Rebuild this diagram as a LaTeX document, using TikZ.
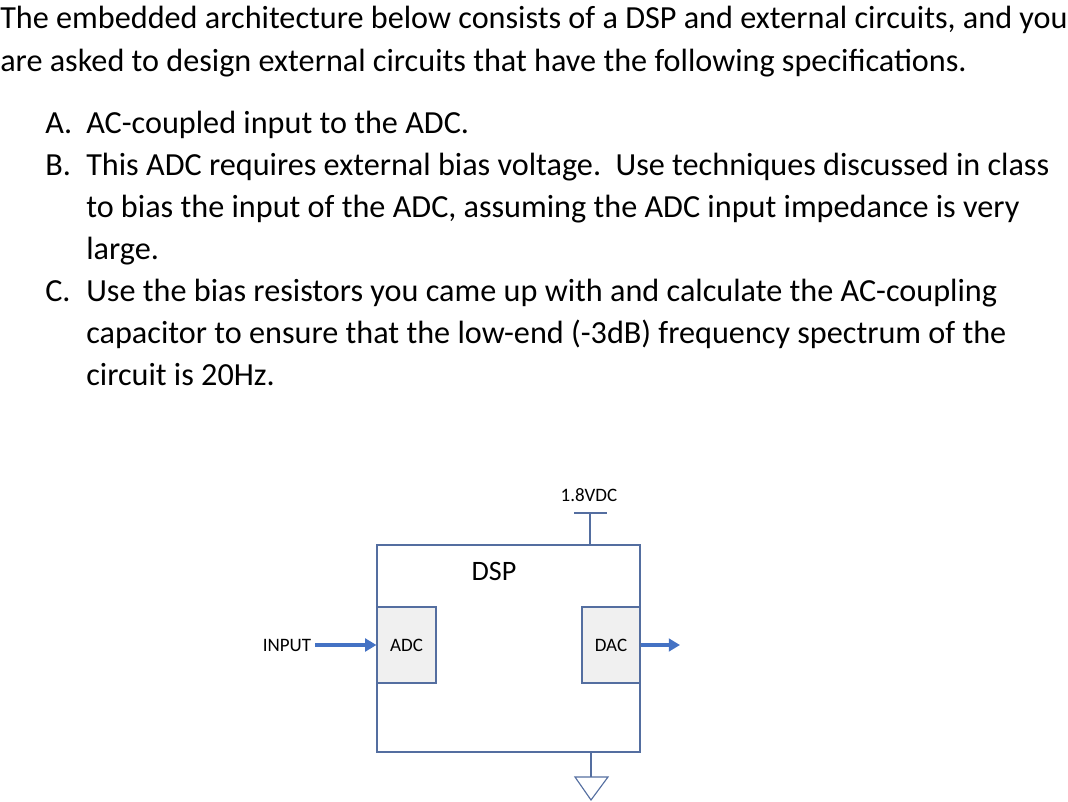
\documentclass[tikz,border=0pt]{standalone}
\usepackage{fontspec}
\setmainfont{Carlito}
\usetikzlibrary{arrows.meta}
\definecolor{boxline}{RGB}{84,110,160}
\definecolor{arrowblue}{RGB}{68,114,196}
\tikzset{
  txt/.style={anchor=base west, inner sep=0pt, font=\fontsize{22.9}{27}\selectfont},
  blk/.style={draw=boxline, fill=gray!12, line width=0.8pt},
  lbl/.style={inner sep=0pt, font=\fontsize{13.5}{16}\selectfont},
  sig/.style={draw=arrowblue, line width=2.2pt, -{Triangle[length=8pt,width=9pt]}}
}
\begin{document}
\begin{tikzpicture}[x=0.025cm, y=-0.025cm]
  \useasboundingbox (0,0) rectangle (1068,802);
  % question text
  \node[txt] (l1) at (0,29) {The embedded architecture below consists of a DSP and external circuits, and you};
  \node[txt] (l2) at (0,71) {are asked to design external circuits that have the following specifications.};
  \node[txt] (ka) at (45,133) {A.};
  \node[txt] (ta) at (86,133) {AC-coupled input to the ADC.};
  \node[txt] (kb) at (45,175) {B.};
  \node[txt] (tb1) at (86,175) {This ADC requires external bias voltage.\ \ Use techniques discussed in class};
  \node[txt] (tb2) at (86,217) {to bias the input of the ADC, assuming the ADC input impedance is very};
  \node[txt] (tb3) at (86,259) {large.};
  \node[txt] (kc) at (45,301) {C.};
  \node[txt] (tc1) at (86,301) {Use the bias resistors you came up with and calculate the AC-coupling};
  \node[txt] (tc2) at (86,343) {capacitor to ensure that the low-end (-3dB) frequency spectrum of the};
  \node[txt] (tc3) at (86,385) {circuit is 20Hz.};
  % diagram
  \draw[boxline, line width=0.8pt] (377,545) rectangle (640,752);
  \node[blk, minimum width=59*0.025cm, minimum height=76*0.025cm, inner sep=0pt] (adc) at (406.5,645) {\fontsize{13.5}{16}\selectfont ADC};
  \node[blk, minimum width=58*0.025cm, minimum height=76*0.025cm, inner sep=0pt] (dac) at (611,645) {\fontsize{13.5}{16}\selectfont DAC};
  \node[inner sep=0pt, font=\fontsize{20}{24}\selectfont] (dsp) at (494,571) {DSP};
  \node[lbl] (vdc) at (589,495) {1.8VDC};
  \node[lbl] (inp) at (287,645) {INPUT};
  \coordinate (top) at (590,545);
  \coordinate (vbar) at (590,513);
  \coordinate (bot) at (591,752);
  \coordinate (gnd) at (591,777);
  \coordinate (out) at (680,645);
  \draw[boxline, line width=0.8pt] (top) -- (vbar);
  \draw[boxline, line width=0.8pt] (574,513) -- (607,513);
  \draw[boxline, line width=0.8pt] (bot) -- (gnd);
  \draw[boxline, line width=0.8pt] (575,777) -- (608,777) -- (591,800) -- cycle;
  \draw[sig] (inp.east) ++(4,0) -- (adc.west);
  \draw[sig] (dac.east) -- (out);
\end{tikzpicture}
\end{document}
